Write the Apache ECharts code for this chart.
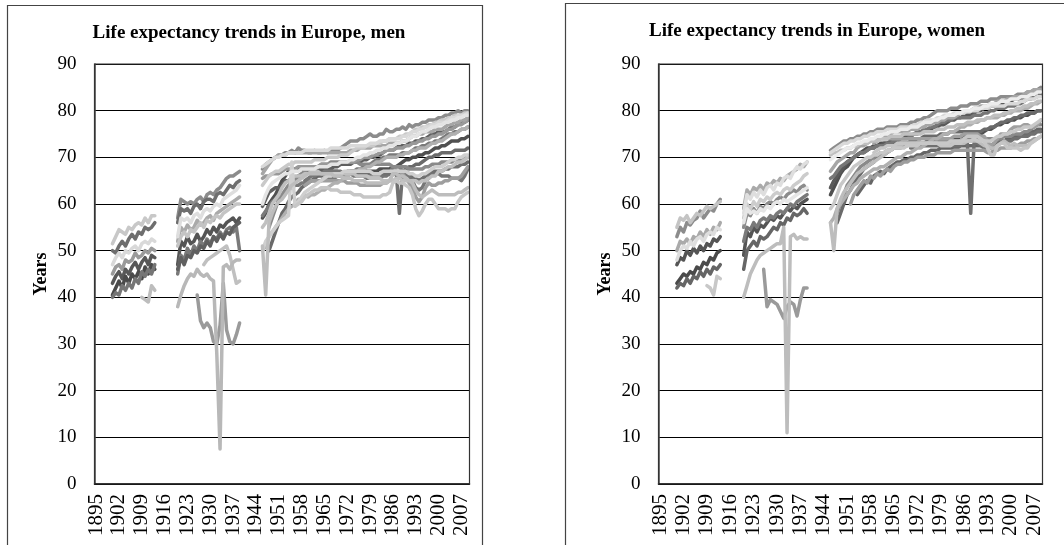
<!DOCTYPE html>
<html><head><meta charset="utf-8">
<script src="https://cdn.jsdelivr.net/npm/echarts@6/dist/echarts.min.js"></script>
<style>html,body{margin:0;padding:0;background:#fff}#c{width:1064px;height:545px}</style>
</head><body><div id="c"></div>
<script>
// ---- categories ----
const firstYear = 1895, lastYear = 2009;
const years = [];
for (let y = firstYear; y <= lastYear; y++) years.push(String(y));
const segStartA = 1900, segStartB = 1920, segStartC = 1946;

// ---- MEN, 1900-1913 ----
const menA1 = [51.5,53,54.5,54,53.5,55,54.5,55.5,56,55.5,57,56,57.5,57.5];
const menA2 = [50,49.5,51,52,51,52.5,53.5,52.5,54,53.5,55,54.5,55,56];
const menA3 = [47,48.5,49.5,48.5,50,49.5,50.5,51,50,51.5,52,51.5,52.5,52];
const menA4 = [45,46.5,47,46,48,47.5,48,49.5,48.5,49,50,49.5,50.5,50];
const menA5 = [43,44.5,45.5,44,46,45,46.5,47.5,46,47.5,48.5,47,49,48.5];
const menA6 = [40.5,42,43.5,42,44.5,43,45,44,45.5,44,46.5,45,47,46];
const menA7 = [40,41,40.5,42.5,41.5,43,42,44,43,45.5,44.5,46,45,47];
const menA8 = [null,null,null,null,null,null,null,null,null,40,39.5,39,42.5,41.5];
// ---- MEN, 1920-1939 ----
const menB1 = [57,61,60.5,60,60.5,60,61,61.5,60.5,62,62.5,62,63,63.5,64.5,65.5,66,66,66.5,67];
const menB2 = [56,59,58.5,59,58,59.5,60,59,60.5,61,61,60.5,62,62.5,62,63,64,63.5,64.5,65];
const menB3 = [53,57,56.5,57,56,57.5,58,57,58.5,59,58.5,59.5,60,59.5,61,61.5,62,62.5,63,64];
const menB4 = [52,55,54,55.5,54.5,55,56.5,55.5,56,57,57.5,56.5,58,58.5,59,59.5,60,60.5,61,61.5];
const menB5 = [51,53,54,53,54.5,54,55,56,55,56.5,56,57,57.5,57,58,58.5,59,59.5,60,60];
const menB6 = [47,52,51,53,51.5,52,53.5,52,53,54.5,53.5,55,54,55.5,55,56,56.5,57,56,57];
const menB7 = [45,49,48,50.5,49,51,50,52,51,52.5,51.5,53,52.5,54,53,54.5,55,54,55,50];
const menB8 = [46,48.5,47,49,48.5,50,49.5,51,50.5,52,51,53,52,53.5,52.5,54,53.5,55,55.5,56];
const menB9 = [38,40.5,42.5,44,45,44.5,46,45,44.5,45,44,43.5,28,7.5,46.5,47,46,47.5,48,48];
const menB10 = [null,null,null,null,null,null,null,null,47,48,48.5,49,49.5,50,50.5,51,49,46,43,43.5];
const menB11 = [null,null,null,null,null,null,40.5,35,33.5,34.5,33.5,30.5,30,34,43,33,30.5,30,32,34.5];
// ---- MEN, 1946-2009 ----
const menC1 = [67.5,68.5,69,69.5,70,70.5,70.5,71,71,71.5, 71,72,71.5,71.5,71,71,71.5,71,71,71.5, 71,71.5,71.5,71.5,72,72.5,73,73.5,73.5,73.5, 74,74,74.5,75,74.5,74.5,75,75,76,75.5, 75.5,76,76,76.5,76,77,76.5,77,77,77.5, 77.5,78,78,78,78.5,78.5,79,79,79.5,79.5, 80,79.5,80,80];
const menC2 = [68,68.5,69,69.5,70,70,70.5,70.5,71,71, 71,71,71,71.5,71.5,71.5,71.5,71.5,71.5,71.5, 71.5,72,72,72,72,72,72,72.5,72.5,72.5, 72.5,72.5,72.5,73,73,73,73.5,73.5,73.5,74, 74,74,74,74.5,74.5,75,75.5,75.5,76,76, 76.5,76.5,77,77,77.5,77.5,77.5,78,78.5,78.5, 79,79,79,79.5];
const menC3 = [66.5,67.5,68.5,69.5,70,70.5,70.5,70.5,71,71, 71,71,71,71,71,71,71,71,71,71, 71,71,71,71,71,71,71,71.5,71.5,71.5, 72,72,72,72,72.5,72.5,72.5,72.5,72.5,73, 73,73,73,73.5,73.5,74,74.5,74.5,75,75, 75.5,75.5,75.5,76,76,76,76.5,77,77,77.5, 77.5,78,78,78.5];
const menC4 = [64,65,66,66.5,67,67,67.5,68,68.5,68.5, 69,69,69,69,69,69,69.5,69.5,69.5,69.5, 70,70,70,70,70.5,70.5,70.5,71,71.5,72, 72,72,72.5,72.5,72.5,73,73,73.5,73.5,74, 74,74,74.5,74.5,75,75,75.5,76,76,76.5, 76.5,77,77,77.5,77.5,78,78,78.5,78.5,79, 79,79,79.5,79.5];
const menC5 = [65.5,66,66,66.5,66.5,66.5,67,67.5,67.5,67.5, 67.5,68,68,68,68,68,68,68,68.5,68.5, 68.5,68.5,68.5,68.5,69,69,69,69,69,69.5, 69.5,70,70,70,70.5,70.5,71,71,71.5,71.5, 71.5,72,72,72,72.5,72.5,73,73,73.5,73.5, 74,74,74.5,74.5,75,75,75.5,76,76,76.5, 77,77,77.5,78];
const menC6 = [59.5,61,62.5,63,63.5,63.5,64,65,65,65.5, 65.5,66,66,66.5,67,67,67,67,67.5,67.5, 67.5,67.5,68,68,68.5,68.5,68.5,68.5,69,69, 69,69.5,69.5,70,70,70.5,70.5,71,71.5,71.5, 71.5,72,72.5,72.5,72.5,73,73,73.5,73.5,74, 74,74.5,75,75,75.5,75.5,75.5,76,76.5,76.5, 77,77.5,77.5,78];
const menC7 = [60,62,63.5,64.5,65,65.5,66,66.5,66.5,67, 67,67,67.5,67.5,67.5,67.5,67.5,68,68,68, 68,68.5,68.5,68.5,69,69,69,69.5,69.5,70, 70,70.5,70.5,71,71,71.5,71.5,72,72,72.5, 72.5,73,73,73.5,73.5,74,74.5,74.5,75,75.5, 75.5,76,76.5,76.5,77,77,77.5,77.5,78,78, 78.5,78.5,79,79];
const menC8 = [57.5,58.5,59.5,60.5,61,61.5,62,62.5,63,63.5, 64,64,64.5,64.5,65,65,65,65,65,65.5, 65.5,65.5,65.5,66,66,66.5,66.5,67,67,67.5, 67.5,68,68,68.5,69,69.5,69.5,70,70,70.5, 70.5,70.5,70.5,71,71,71,71.5,72,72,72.5, 72.5,73,73,73.5,73.5,74,74.5,75,75,75.5, 75.5,76,76,76.5];
const menC9 = [50,51,53,54,55,56,57,58,59,59.5, 60,61,61,62,61.5,62,62,62.5,63,63, 63.5,64,64.5,64.5,65,65.5,66,66.5,67,67, 67.5,67.5,68,68,68.5,69,69,69.5,70,70, 70,70,70.5,70.5,71,71,71.5,71.5,72,72, 72,72.5,73,73,73.5,73.5,74,74.5,75,75, 75.5,76,76,76.5];
const menC10 = [57,58,60,61,62,63.5,65,66,67,67.5, 67.5,67.5,67.5,67.5,67.5,67.5,67.5,67,67,67, 67,66.5,66.5,66.5,66.5,66.5,66.5,66.5,67,67, 67,67,67,67,67,67,67.5,67.5,67.5,67.5, 68,68,68.5,69,69.5,69.5,70,70,70.5,70.5, 71,71,71.5,72,72,72.5,72.5,73,73.5,73.5, 73.5,74,74,74.5];
const menC11 = [55,56,58,60,61,62,63.5,64.5,65,65.5, 66,66,66,66.5,66.5,67,67,67,66.5,66.5, 66.5,66.5,66.5,66,66.5,66.5,66.5,66.5,66.5,66, 66,66,66,65.5,65.5,65.5,65.5,65,65,65, 65,65.5,65.5,65,65,65,65,65,64.5,65, 65,65.5,66,66,67,67,67.5,68,68,68.5, 69,69,69.5,70];
const menC12 = [null,null,55,57,59,61,62,63,64,64.5, 65,66,66.5,67,67.5,68,68,68,68.5,68.5, 68.5,69,69,69,69,69,69,69,69,69, 68.5,68.5,68.5,68.5,68.5,68.5,68.5,68.5,68.5,68.5, 68,68,68,68,68,67.5,67.5,67.5,67.5,67.5, 68,68,68.5,68.5,68.5,69,69,69,69,69.5, 69.5,69.5,70,70];
const menC13 = [null,null,50,52,54,56,58,59,60.5,61.5, 62,62.5,63.5,64,64.5,65,65.5,66,66,66.5, 66.5,67,67,67,66.5,66.5,67,67,67,67, 67,67,67,66.5,66.5,66.5,66.5,66.5,66.5,66.5, 66.5,66.5,66.5,67,67.5,68,68,68.5,68.5,69, 69.5,70,70,70.5,70.5,71,71,71,71,71.5, 71.5,71.5,71.5,72];
const menC14 = [50,52,53,54,55,56,56.5,57,57.5,69, 59.5,60.5,61.5,62.5,63,63.5,64,64.5,65,65.5, 66,66,66.5,66.5,66.5,67,67,67,67,67, 67,67,67,67,66.5,66.5,66.5,67,67,67, 67,67,67,67,67,66.5,66.5,66,66,66.5, 66.5,67,67.5,68,68,68,68.5,69,69.5,69.5, 70,70,70.5,70.5];
const menC15 = [51,40.5,56,58,59.5,60.5,61,62,63,64, 64.5,65,65.5,66,66.5,66.5,66.5,66.5,66.5,66.5, 66.5,66.5,66,66,66,65.5,65.5,65.5,65,65, 65,65,64.5,64.5,64.5,64.5,64.5,64.5,64.5,65, 66.5,66.5,66,66,65.5,65,64.5,63,62,61.5, 62,62.5,63,62.5,62,62,62,62,62,62, 62.5,62.5,63,63.5];
const menC16 = [null,null,null,null,null,null,null,null,null,null, 59.5,60,60.5,61.5,62,62.5,63,63,63.5,63.5, 63.5,63,63,63,62.5,62.5,62.5,62.5,62,62, 62,61.5,61.5,61.5,61.5,61.5,61.5,62,62,62.5, 64.5,65,64.5,64.5,64,63.5,62,59,57.5,58.5, 60,61,61,60,59,59,59,58.5,59,59, 60.5,61.5,62,62.5];
const menC17 = [null,null,null,null,null,null,null,null,null,null, null,null,null,64,64.5,65,65,65,65,65, 65,65,65,65,65,65,64.5,64.5,64.5,64.5, 64,64,64,64,64,64,64,64.5,64.5,65, 66.5,67,67,66.5,65.5,64.5,63.5,61.5,60.5,61.5, 63.5,64.5,64,64,64.5,64.5,65,65,65.5,65.5, 65.5,66,67,68];
const menC18 = [null,null,null,null,null,null,null,null,null,null, null,null,null,65,65.5,66,66,66.5,66.5,67, 67,67,67,67,67,66.5,66.5,66.5,66,66, 66,66,65.5,65.5,65.5,65.5,65.5,66,66,66.5, 68,68,68,67,66.5,66,65,63.5,63,63.5, 65,65.5,66.5,66.5,66.5,66,66,66,65.5,65.5, 65.5,65,66,67.5];
const menC19 = [null,null,null,null,null,null,null,null,null,null, null,null,null,null,null,null,null,null,null,null, null,null,null,null,66,66,66,66.5,66.5,66.5, 66.5,66.5,66.5,66.5,66.5,66.5,66.5,66.5,66.5,66.5, 67,67,58,67,67,66.5,66,65.5,65,65.5, 66,66.5,67,67,67,67,67.5,67.5,68,68, 68,68.5,68.5,69];

// ---- WOMEN, 1900-1913 ----
const womA1 = [55,57,56.5,57.5,56,57,58,57.5,58.5,59.5,59,59.5,60,60.5];
const womA2 = [53,55,54,56,55.5,56.5,57,58.5,57,58,59,58.5,60,61];
const womA3 = [48,50,51,50.5,52,51,52.5,53,52,53.5,54,53.5,55,54.5];
const womA4 = [50,52,51.5,52.5,51.5,53,52.5,54,53,54.5,53.5,55,54.5,56];
const womA5 = [47,48.5,48,50,49,50.5,49.5,51,50,51.5,51,52.5,52,53];
const womA6 = [43,44,45,44.5,45.5,45,46.5,46,47.5,47,48.5,48,49.5,50];
const womA7 = [42,43,42.5,44,43,44.5,44,45.5,44.5,46,45,46.5,46,47];
const womA8 = [null,null,null,null,null,null,null,null,null,42.5,42,40.5,44.5,44];
// ---- WOMEN, 1920-1939 ----
const womB1 = [58,62,61,62.5,61.5,63,62,63.5,64,63,64.5,64,65.5,66,65.5,67,68,67.5,68.5,69];
const womB2 = [59,63,62,63.5,63,64,63,64.5,64,65,64.5,65.5,65,66,66.5,67,67.5,68.5,68,69];
const womB3 = [57,60,59,60.5,59.5,61,60.5,61.5,61,62,62.5,62,63,63.5,63,64,64.5,65,66,66.5];
const womB4 = [55,58,57.5,59,58,59.5,59,60,60.5,60,61,61.5,61,62,62.5,63,62.5,63.5,64,63];
const womB5 = [56,59,58,58.5,58,59,58.5,59.5,59,60,60.5,60,61,60.5,61,61.5,62,62.5,63,63.5];
const womB6 = [49,54,53,55,54,55.5,55,56,57,56.5,57.5,57,58,59,58.5,59.5,59,60,60.5,61];
const womB7 = [46,50,51,52,51,53,52.5,53,54,55,54.5,56,55.5,57,56.5,58,57.5,58,59,58];
const womB8 = [52,55,54.5,56,55,56.5,57,56.5,57.5,57,58,58.5,58,59,60,59.5,60.5,61,61.5,62];
const womB9 = [40,42.5,45,46.5,48,49,49.5,50,50.5,51,51.5,51.5,55,11,53,53.5,52.5,53,52.5,52.5];
const womB10 = [null,null,null,null,null,null,46,38,39.5,39,38.5,37,35.5,38,39,38.5,36,39.5,42,42];
// ---- WOMEN, 1946-2009 ----
const womC1 = [71.5,72,72.5,73,73.5,73.5,74,74,74.5,74.5, 75,75,75.5,75.5,76,76,76,76.5,76.5,76.5, 76.5,77,77,77,77.5,77.5,78,78,78.5,78.5, 79,79.5,80,80,80,80,80.5,80.5,80.5,81, 81,81,81.5,81.5,81.5,82,82,82,82.5,82.5, 82.5,83,83,83,83,83,83.5,83.5,83.5,84, 84,84.5,84.5,85];
const womC2 = [71,71.5,72,72.5,73,73,73.5,73.5,74,74, 74.5,74.5,75,75,75.5,75.5,75.5,76,76,76, 76,76.5,76.5,76.5,76.5,77,77,77.5,77.5,78, 78,78,78.5,78.5,79,79,79,79.5,79.5,79.5, 79.5,80,80,80,80,80.5,80.5,80.5,81,81, 81,81,81,81.5,81.5,81.5,81.5,82,82,82.5, 82.5,82.5,83,83];
const womC3 = [67,68,69,69.5,70,70.5,71,71,72,72.5, 72.5,73,73.5,74,74,74.5,74.5,74.5,75,75.5, 75.5,75.5,75.5,75.5,76,76,76,76.5,76.5,77, 77,77.5,77.5,78,78,78.5,78.5,78.5,79,79.5, 79.5,80,80,80.5,80.5,81,81,81,81.5,81.5, 82,82,82,82.5,82.5,83,83,83,83.5,84, 84,84.5,84.5,84.5];
const womC4 = [69.5,70,70.5,71,71.5,72,72,72.5,73,73, 73.5,73.5,74,74,74.5,74.5,75,75,75.5,75.5, 75.5,76,76,76,76.5,76.5,76.5,77,77.5,77.5, 77.5,78,78,78.5,78.5,79,79,79,79.5,79.5, 80,80,80,80.5,80.5,80.5,81,81,81.5,81.5, 81.5,82,82,82,82.5,82.5,82.5,83,83,83, 83.5,83.5,84,84];
const womC5 = [63.5,65,66,67,68,69,69.5,70,70.5,71, 71,71.5,72,72,72.5,72.5,73,73,73.5,73.5, 74,74,74.5,74.5,74.5,75,75,75.5,75.5,76, 76,76.5,76.5,77,77,77.5,78,78,78.5,78.5, 79,79,79,79.5,80,80,80.5,80.5,81,81, 81.5,81.5,81.5,82,82,82.5,82.5,82.5,83,83, 83.5,83.5,84,84];
const womC6 = [70.5,71,71,71.5,71.5,72,72,72.5,72.5,73, 73,73,73.5,73.5,73.5,74,74,74,74.5,74.5, 74.5,74.5,75,75,75,75,75,75,75.5,75.5, 75.5,75.5,76,76,76,76.5,76.5,76.5,77,77, 77,77.5,77.5,77.5,78,78,78,78.5,78.5,79, 79,79,79.5,79.5,80,80,80.5,80.5,81,81, 81.5,81.5,82,82];
const womC7 = [65.5,66,67,68,68.5,69,69.5,70,70.5,71, 71,71.5,72,72,72.5,72.5,72.5,73,73,73.5, 73.5,74,74,74,74.5,75,75.5,75.5,76,76, 76.5,76.5,77,77.5,77.5,78,78,78.5,78.5,78.5, 78.5,78.5,78.5,79,79,79,79.5,79.5,80,80, 80.5,80.5,80.5,81,81,81,81.5,81.5,82,82.5, 82.5,83,83,83.5];
const womC8 = [56,57,59,60,61,62,63,64,64.5,65.5, 66,66.5,67,67.5,67.5,68,68,68.5,69,69.5, 70,70,70.5,71,71,71.5,72,72,72.5,73, 73.5,74,74,74.5,75,75,75.5,75.5,76,76.5, 76.5,77,77,77.5,77.5,78,78,78.5,78.5,78.5, 78.5,79,79,79.5,79.5,80,80,80,80.5,80.5, 81,81.5,81.5,82];
const womC9 = [62,63.5,65,66.5,67.5,68,69,70,70.5,71, 71.5,72,72,72.5,72.5,73,73,73,73,73, 73,73,73,73,73,73,73,73,73,73.5, 73.5,73.5,73.5,73.5,73.5,74,74,74,74,74.5, 74.5,74.5,75,75,75,75,75.5,76,76,76.5, 77,77,77.5,77.5,78,78,78.5,78.5,79,79, 79.5,79.5,80,80];
const womC10 = [59,60,62,64,65,66,67,68,68.5,69, 69.5,70,70,70.5,70.5,71,71,71.5,71.5,72, 72,72,72,72.5,72.5,72.5,72.5,73,73,73, 73,73,73,73,73,73,73.5,73.5,73.5,73.5, 73.5,73.5,73.5,74,73.5,73.5,73.5,73.5,73.5,74, 74.5,74.5,75,75,75.5,75.5,76,76,76.5,76.5, 76.5,77,77.5,78];
const womC11 = [null,null,58,60,62,64,65,66,67,68, 68.5,69,69.5,70,70.5,71,71,71.5,71.5,72, 72,72,72.5,72.5,73,73,73,73,73,73, 73,73,73.5,73.5,73.5,73.5,73.5,73.5,73.5,73.5, 74,74,74,74,74,74,74,74,74,74, 74,74,74.5,74.5,74.5,75,75,75,75.5,75.5, 76,76.5,77,77];
const womC12 = [null,null,56,58,60,62,63,64.5,65.5,66.5, 67.5,68,68.5,69,70,70.5,70.5,71,71.5,72, 72.5,72.5,73,73,73.5,73.5,74,74,74.5,74.5, 74.5,74.5,74.5,75,75,75,75.5,75.5,75.5,75.5, 75.5,75.5,75.5,75.5,75.5,75.5,76,76,76.5,76.5, 77,77.5,77.5,78,78,78.5,78.5,79,79,79.5, 79.5,79.5,80,80];
const womC13 = [56,50,59,61,62.5,63.5,64.5,65.5,66.5,67, 67.5,68,68.5,69,69.5,70,70.5,71,71.5,72, 72.5,72.5,73,73,73,73,73,73,73,73, 73,73,73,73,73,73,73,73,73,73, 73,73.5,73.5,73.5,73.5,73,72.5,72.5,72,72, 72.5,73,73.5,73,72.5,73,72.5,72.5,72.5,72.5, 73,73.5,74,74.5];
const womC14 = [null,null,null,null,null,null,60,62,63,64, 65,64.5,66,65.5,66.5,66,67,67.5,67,68, 68.5,68.5,69,69,69.5,69.5,70,70,70,70.5, 70.5,70.5,71,71,71,71,71,71.5,71.5,71.5, 71.5,71.5,71.5,71.5,71.5,71.5,71.5,71,71,71.5, 71.5,72,72,72,72,72.5,72.5,73,73,73.5, 73.5,74,74,74.5];
const womC15 = [null,null,null,null,null,null,null,null,null,null, null,null,null,71,71.5,72,72,72.5,72.5,72.5, 73,73,73,73,73,73,73,73,73,73, 73,73,73,72.5,72.5,72.5,72.5,73,73,73, 74,74.5,74.5,74.5,74.5,74,73.5,72,70.5,70.5, 72.5,73,73,72,72,72,72,71.5,72,72, 73,73.5,74,74.5];
const womC16 = [null,null,null,null,null,null,null,null,null,null, null,null,null,73,73.5,74,74,74,74,74, 74,74,74,74,74,74,74,74,74,74, 74,74,74,74,74,74,74,74.5,74.5,74.5, 75,75,75,75,75,74.5,74.5,73.5,72.5,73, 74,75,75,75,76,76.5,76.5,76.5,77,77, 76.5,76.5,77,78];
const womC17 = [null,null,null,null,null,null,null,null,null,null, null,null,null,null,null,null,null,null,null,null, null,null,null,null,72,72,72.5,72.5,72.5,72.5, 72.5,72.5,72.5,72.5,72.5,72.5,72.5,72.5,72.5,72.5, 73,73,58,73,73,72.5,72,72,72,72.5, 73,73.5,73.5,73.5,73.5,74,74,74.5,74.5,74.5, 75,75,75.5,75.5];
const womC18 = [null,null,null,null,null,null,null,null,62,63, 64,65,64.5,66,66.5,67,66.5,67.5,68,68.5, 69,69,69.5,69.5,70,70,70.5,70.5,71,71, 71.5,71.5,71.5,72,72,72,72,72,72,72.5, 72.5,72.5,72.5,72.5,72.5,72.5,72.5,72.5,72.5,73, 73,73.5,73.5,74,74,74.5,74.5,74.5,75,75, 75.5,75.5,76,76];

// ---- which array goes where, and its grey ----
const menLines = [
  [segStartA, menA1, '#c8c8c8'], [segStartA, menA2, '#6e6e6e'], [segStartA, menA4, '#9a9a9a'],
  [segStartA, menA5, '#585858'], [segStartA, menA6, '#4a4a4a'], [segStartA, menA7, '#767676'],
  [segStartA, menA3, '#d9d9d9'], [segStartA, menA8, '#bdbdbd'],
  [segStartB, menB1, '#8c8c8c'], [segStartB, menB2, '#6e6e6e'], [segStartB, menB6, '#555555'],
  [segStartB, menB7, '#7a7a7a'], [segStartB, menB8, '#606060'], [segStartB, menB4, '#aaaaaa'],
  [segStartB, menB5, '#c4c4c4'], [segStartB, menB3, '#dedede'], [segStartB, menB11, '#9a9a9a'],
  [segStartB, menB10, '#c0c0c0'], [segStartB, menB9, '#b8b8b8'],
  [segStartC, menC10, '#505050'], [segStartC, menC6, '#606060'], [segStartC, menC13, '#6a6a6a'],
  [segStartC, menC8, '#7a7a7a'], [segStartC, menC18, '#777777'], [segStartC, menC19, '#707070'],
  [segStartC, menC12, '#8a8a8a'], [segStartC, menC1, '#8c8c8c'], [segStartC, menC5, '#999999'],
  [segStartC, menC17, '#9e9e9e'], [segStartC, menC3, '#a6a6a6'], [segStartC, menC9, '#b0b0b0'],
  [segStartC, menC11, '#c0c0c0'], [segStartC, menC4, '#c9c9c9'], [segStartC, menC14, '#cfcfcf'],
  [segStartC, menC15, '#bdbdbd'], [segStartC, menC16, '#c6c6c6'], [segStartC, menC2, '#d9d9d9'],
  [segStartC, menC7, '#e4e4e4']
];
const womLines = [
  [segStartA, womA2, '#8c8c8c'], [segStartA, womA4, '#aaaaaa'], [segStartA, womA5, '#555555'],
  [segStartA, womA6, '#4a4a4a'], [segStartA, womA7, '#666666'], [segStartA, womA1, '#c4c4c4'],
  [segStartA, womA3, '#dedede'], [segStartA, womA8, '#c8c8c8'],
  [segStartB, womB4, '#8c8c8c'], [segStartB, womB6, '#555555'], [segStartB, womB7, '#666666'],
  [segStartB, womB8, '#7a7a7a'], [segStartB, womB2, '#aaaaaa'], [segStartB, womB3, '#cccccc'],
  [segStartB, womB1, '#dedede'], [segStartB, womB5, '#e6e6e6'], [segStartB, womB10, '#9a9a9a'],
  [segStartB, womB9, '#bdbdbd'],
  [segStartC, womC9, '#505050'], [segStartC, womC5, '#5a5a5a'], [segStartC, womC18, '#666666'],
  [segStartC, womC12, '#6a6a6a'], [segStartC, womC17, '#707070'], [segStartC, womC7, '#777777'],
  [segStartC, womC11, '#8a8a8a'], [segStartC, womC1, '#8c8c8c'], [segStartC, womC14, '#9e9e9e'],
  [segStartC, womC16, '#a0a0a0'], [segStartC, womC3, '#a6a6a6'], [segStartC, womC8, '#b0b0b0'],
  [segStartC, womC13, '#bdbdbd'], [segStartC, womC6, '#c0c0c0'], [segStartC, womC15, '#c6c6c6'],
  [segStartC, womC10, '#c8c8c8'], [segStartC, womC2, '#d9d9d9'], [segStartC, womC4, '#ececec']
];

function place(start, vals) {
  const arr = new Array(years.length).fill(null);
  vals.forEach((v, i) => { arr[start - firstYear + i] = v; });
  return arr;
}
function makeSeries(lines, idx) {
  return lines.map(([s, vals, col]) => ({
    type: 'line', xAxisIndex: idx, yAxisIndex: idx, data: place(s, vals),
    showSymbol: false, symbol: 'none', connectNulls: false, silent: true,
    lineStyle: { color: col, width: 3.5, cap: 'round', join: 'round' }, animation: false
  }));
}

const SERIF = "'Liberation Serif','Times New Roman',serif";
const G0 = { left: 94.5, top: 64, width: 375, height: 420 };
const G1 = { left: 658.5, top: 64, width: 384, height: 420 };
function xAx(i) {
  return {
    type: 'category', gridIndex: i, data: years, boundaryGap: true,
    axisLine: { show: true, lineStyle: { color: '#000', width: 1.5 } },
    axisTick: { show: false },
    axisLabel: { interval: 6, rotate: 90, fontFamily: SERIF, fontSize: 21, color: '#000', margin: 10 },
    splitLine: { show: false }
  };
}
function yAx(i) {
  return {
    type: 'value', gridIndex: i, min: 0, max: 90, interval: 10,
    name: 'Years', nameLocation: 'middle', nameRotate: 90, nameGap: 44,
    nameTextStyle: { fontFamily: SERIF, fontSize: 18, fontWeight: 'bold', color: '#000' },
    axisLine: { show: true, lineStyle: { color: '#444', width: 1.5 } },
    axisTick: { show: false },
    axisLabel: { fontFamily: SERIF, fontSize: 19, color: '#000', margin: 18 },
    splitLine: { show: true, lineStyle: { color: '#000', width: 1.2 } }
  };
}

const chart = echarts.init(document.getElementById('c'), null, { renderer: 'canvas' });
chart.setOption({
  animation: false,
  backgroundColor: '#fff',
  title: [
    { text: 'Life expectancy trends in Europe, men', left: 244, top: 19, textAlign: 'center',
      textStyle: { fontFamily: SERIF, fontSize: 19, fontWeight: 'bold', color: '#000' } },
    { text: 'Life expectancy trends in Europe, women', left: 812, top: 17, textAlign: 'center',
      textStyle: { fontFamily: SERIF, fontSize: 19, fontWeight: 'bold', color: '#000' } }
  ],
  graphic: [
    { type: 'rect', shape: { x: 7.5, y: 5.5, width: 475, height: 600 }, style: { fill: 'none', stroke: '#444', lineWidth: 1.2 }, silent: true },
    { type: 'rect', shape: { x: 565.5, y: 3.5, width: 600, height: 600 }, style: { fill: 'none', stroke: '#444', lineWidth: 1.2 }, silent: true },
    { type: 'rect', shape: { x: G0.left, y: G0.top, width: G0.width, height: G0.height }, style: { fill: 'none', stroke: '#333', lineWidth: 1.2 }, silent: true, z: 100 },
    { type: 'rect', shape: { x: G1.left, y: G1.top, width: G1.width, height: G1.height }, style: { fill: 'none', stroke: '#333', lineWidth: 1.2 }, silent: true, z: 100 }
  ],
  grid: [G0, G1],
  xAxis: [xAx(0), xAx(1)],
  yAxis: [yAx(0), yAx(1)],
  series: makeSeries(menLines, 0).concat(makeSeries(womLines, 1))
});
</script>
</body></html>
